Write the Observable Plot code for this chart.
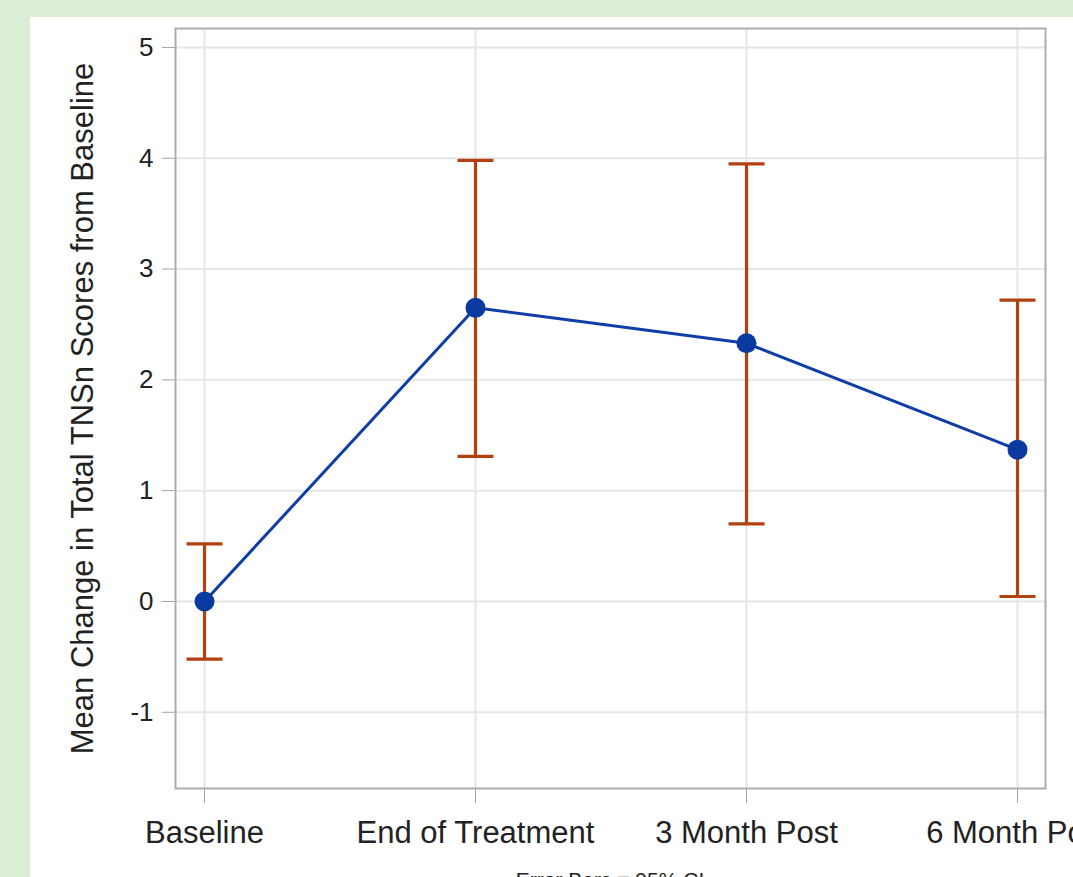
<!DOCTYPE html>
<html>
<head>
<meta charset="utf-8">
<script src="https://cdn.jsdelivr.net/npm/d3@7"></script>
<script src="https://cdn.jsdelivr.net/npm/@observablehq/plot@0.6"></script>
<style>
  html, body { margin: 0; padding: 0; width: 1073px; height: 877px; overflow: hidden; background: #dbeed5; }
  #panel { position: absolute; left: 30px; top: 17px; right: 0; bottom: 0; background: #ffffff; }
  #chart { position: absolute; left: 0; top: 0; }
  #caption { position: absolute; left: 175px; width: 870px; top: 869px; text-align: center;
             font: 21px/1 "Liberation Sans", Arial, sans-serif; color: #222; }
</style>
</head>
<body>
<div id="panel"></div>
<div id="chart"></div>
<div id="caption">Error Bars = 95% CI</div>
<script>
const categories = ["Baseline", "End of Treatment", "3 Month Post", "6 Month Post"];
const means = [0, 2.65, 2.33, 1.37];
const lower = [-0.52, 1.31, 0.70, 0.045];
const upper = [0.52, 3.98, 3.95, 2.72];
const yTicks = [-1, 0, 1, 2, 3, 4, 5];
const yLabel = "Mean Change in Total TNSn Scores from Baseline";

const data = categories.map((c, i) => ({cat: c, mean: means[i], lo: lower[i], hi: upper[i]}));

const barColor = "#b2410f";
const lineColor = "#0f3fa6";
const dotColor = "#0a3a9f";
const font = "Liberation Sans, Arial, sans-serif";

// horizontal cap symbol for the error bars
const capSymbol = {
  draw(context) {
    context.moveTo(-18, 0);
    context.lineTo(18, 0);
  }
};

const chart = Plot.plot({
  width: 1073,
  height: 877,
  marginLeft: 175,
  marginRight: 28,
  marginTop: 28,
  marginBottom: 89,
  style: {background: "transparent", fontFamily: font, color: "#222", overflow: "hidden"},
  x: {type: "point", domain: categories, padding: 0.103, label: null},
  y: {domain: [-1.688, 5.171], label: null},
  marks: [
    Plot.gridY(yTicks, {stroke: "#e6e6e6", strokeOpacity: 1, strokeWidth: 2}),
    Plot.gridX(categories, {stroke: "#e6e6e6", strokeOpacity: 1, strokeWidth: 2}),
    Plot.frame({stroke: "#a9adb1", strokeWidth: 2}),
    Plot.axisY(yTicks, {tickSize: 13, tickPadding: 9, fontSize: 26, stroke: "#a0a4a8", fill: "#222", label: null, tickFormat: d => d < 0 ? "-" + Math.abs(d) : String(d)}),
    Plot.axisX(categories, {tickSize: 15, tickPadding: 17, fontSize: 31, stroke: "#a0a4a8", fill: "#222", label: null}),
    Plot.text([yLabel], {frameAnchor: "left", dx: -92, rotate: -90, text: d => d, textAnchor: "middle", fontSize: 31, fill: "#222"}),
    Plot.ruleX(data, {x: "cat", y1: "lo", y2: "hi", stroke: barColor, strokeWidth: 3.2}),
    Plot.dot(data, {x: "cat", y: "lo", symbol: capSymbol, stroke: barColor, strokeWidth: 3.2, fill: "none"}),
    Plot.dot(data, {x: "cat", y: "hi", symbol: capSymbol, stroke: barColor, strokeWidth: 3.2, fill: "none"}),
    Plot.line(data, {x: "cat", y: "mean", stroke: lineColor, strokeWidth: 3}),
    Plot.dot(data, {x: "cat", y: "mean", r: 10, fill: dotColor, stroke: "none"})
  ]
});
document.getElementById("chart").appendChild(chart);
</script>
</body>
</html>
